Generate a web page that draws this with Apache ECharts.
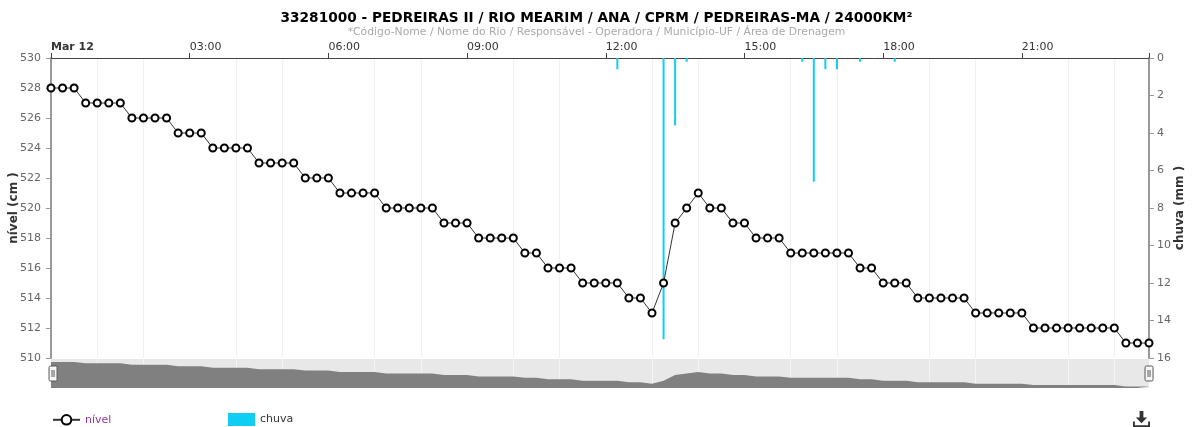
<!DOCTYPE html>
<html>
<head>
<meta charset="utf-8">
<script src="https://cdn.jsdelivr.net/npm/echarts@6/dist/echarts.min.js"></script>
<style>
html,body{margin:0;padding:0;background:#fff;}
#chart{width:1193px;height:427px;}
</style>
</head>
<body>
<div id="chart"></div>
<script>
const times = [
'00:00','00:15','00:30','00:45','01:00','01:15','01:30','01:45',
'02:00','02:15','02:30','02:45','03:00','03:15','03:30','03:45',
'04:00','04:15','04:30','04:45','05:00','05:15','05:30','05:45',
'06:00','06:15','06:30','06:45','07:00','07:15','07:30','07:45',
'08:00','08:15','08:30','08:45','09:00','09:15','09:30','09:45',
'10:00','10:15','10:30','10:45','11:00','11:15','11:30','11:45',
'12:00','12:15','12:30','12:45','13:00','13:15','13:30','13:45',
'14:00','14:15','14:30','14:45','15:00','15:15','15:30','15:45',
'16:00','16:15','16:30','16:45','17:00','17:15','17:30','17:45',
'18:00','18:15','18:30','18:45','19:00','19:15','19:30','19:45',
'20:00','20:15','20:30','20:45','21:00','21:15','21:30','21:45',
'22:00','22:15','22:30','22:45','23:00','23:15','23:30','23:45'];

const nivel = [
528,528,528, 527,527,527,527, 526,526,526,526, 525,525,525,
524,524,524,524, 523,523,523,523, 522,522,522, 521,521,521,521,
520,520,520,520,520, 519,519,519, 518,518,518,518, 517,517,
516,516,516, 515,515,515,515, 514,514, 513, 515, 519, 520, 521,
520,520, 519,519, 518,518,518, 517,517,517,517,517,517, 516,516,
515,515,515, 514,514,514,514,514, 513,513,513,513,513,
512,512,512,512,512,512,512,512, 511,511,511];

const rainTimes = ['12:15','13:15','13:30','13:45','16:15','16:30','16:45','17:00','17:30','18:15'];
const rainValues = [0.6, 15.0, 3.6, 0.2, 0.2, 6.6, 0.6, 0.6, 0.2, 0.2];

const xTickLabels = ['Mar 12','03:00','06:00','09:00','12:00','15:00','18:00','21:00'];

const titleText = '33281000 - PEDREIRAS II / RIO MEARIM / ANA / CPRM / PEDREIRAS-MA / 24000KM²';
const subText = '*Código-Nome / Nome do Rio / Responsável - Operadora / Município-UF / Área de Drenagem';

const toH = t => parseInt(t.slice(0,2),10) + parseInt(t.slice(3),10)/60;
const levelData = times.map((t,i) => [toH(t), nivel[i]]);
const rainData = rainTimes.map((t,i) => [toH(t), rainValues[i]]);
const xMax = toH(times[times.length-1]);

const FONT = 'DejaVu Sans';
const chart = echarts.init(document.getElementById('chart'), null, {renderer:'canvas'});

const option = {
  animation: false,
  textStyle: {fontFamily: FONT},
  title: {
    text: titleText, subtext: subText, left: 'center', top: 10, padding: 0, itemGap: 0,
    textStyle: {fontFamily: FONT, fontSize: 13.7, fontWeight: 'bold', color: '#000', lineHeight: 16},
    subtextStyle: {fontFamily: FONT, fontSize: 10.8, color: '#aaa', lineHeight: 13}
  },
  grid: [
    {left: 51, right: 44, top: 58, bottom: 69, outerBoundsMode: 'none', containLabel: false},
    {left: 51, right: 44, top: 359, height: 29, show: true, backgroundColor: '#e8e8e8', borderWidth: 0, outerBoundsMode: 'none', containLabel: false}
  ],
  xAxis: [
    {
      type: 'value', gridIndex: 0, position: 'top', min: 0, max: xMax, interval: 3,
      axisLine: {show: true, onZero: false, lineStyle: {color: '#444', width: 1}},
      axisTick: {show: true, length: 5, lineStyle: {color: '#444'}},
      minorTick: {show: false, splitNumber: 3},
      splitLine: {show: false},
      minorSplitLine: {show: true, lineStyle: {color: '#f0f0f0', width: 1}},
      axisLabel: {
        align: 'left', margin: 5, fontSize: 11, color: '#333', fontFamily: FONT,
        formatter: v => { const k = Math.round(v/3); return k === 0 ? '{b|' + xTickLabels[0] + '}' : (xTickLabels[k] || ''); },
        rich: {b: {fontWeight: 'bold', fontSize: 11, color: '#333', fontFamily: FONT}}
      }
    },
    {
      type: 'value', gridIndex: 1, min: 0, max: xMax, interval: 3,
      axisLine: {show: false}, axisTick: {show: false}, axisLabel: {show: false},
      splitLine: {show: false},
      minorTick: {show: false, splitNumber: 3},
      minorSplitLine: {show: true, lineStyle: {color: '#f4f4f4', width: 1}}
    }
  ],
  yAxis: [
    {
      type: 'value', gridIndex: 0, min: 510, max: 530, interval: 2,
      name: 'nível (cm )', nameLocation: 'middle', nameRotate: 90, nameGap: 31, nameMoveOverlap: false,
      nameTextStyle: {fontFamily: FONT, fontWeight: 'bold', fontSize: 12, color: '#333'},
      axisLine: {show: true, lineStyle: {color: '#999', width: 2}},
      axisTick: {show: true, length: 5, lineStyle: {color: '#999'}},
      splitLine: {show: false},
      axisLabel: {margin: 10, fontSize: 11, color: '#666', fontFamily: FONT}
    },
    {
      type: 'value', gridIndex: 0, position: 'right', min: 0, max: 16, interval: 2, inverse: true,
      name: 'chuva (mm )', nameLocation: 'middle', nameRotate: 90, nameGap: 25, nameMoveOverlap: false,
      nameTextStyle: {fontFamily: FONT, fontWeight: 'bold', fontSize: 12, color: '#333'},
      axisLine: {show: true, lineStyle: {color: '#999', width: 2}},
      axisTick: {show: true, length: 5, lineStyle: {color: '#999'}},
      splitLine: {show: false},
      axisLabel: {margin: 8, fontSize: 11, color: '#666', fontFamily: FONT}
    },
    {
      type: 'value', gridIndex: 1, min: 510, max: 530,
      axisLine: {show: false}, axisTick: {show: false}, axisLabel: {show: false}, splitLine: {show: false}
    }
  ],
  dataZoom: [{
    type: 'slider', xAxisIndex: [0, 1], filterMode: 'none',
    left: 51, right: 44, top: 359, height: 29,
    showDataShadow: false, showDetail: false, brushSelect: false, moveHandleSize: 0,
    backgroundColor: 'rgba(0,0,0,0)', fillerColor: 'rgba(0,0,0,0)', borderColor: 'rgba(0,0,0,0)',
    handleIcon: 'path://M1.5,0 h5 a1.5,1.5 0 0 1 1.5,1.5 v12 a1.5,1.5 0 0 1 -1.5,1.5 h-5 a1.5,1.5 0 0 1 -1.5,-1.5 v-12 a1.5,1.5 0 0 1 1.5,-1.5 z M3,4 v7 M5,4 v7',
    handleSize: 15,
    handleStyle: {color: '#f7f7f7', borderColor: '#555', borderWidth: 1},
    emphasis: {handleStyle: {color: '#f7f7f7', borderColor: '#555'}},
    start: 0, end: 100
  }],
  legend: [
    {
      data: [{name: 'nível', textStyle: {color: '#8e3b96'}}],
      left: 52, top: 414, padding: 0, itemWidth: 27, itemHeight: 12, itemGap: 0,
      textStyle: {fontFamily: FONT, fontSize: 11}, selectedMode: false
    },
    {
      data: [{name: 'chuva', icon: 'rect', textStyle: {color: '#333'}}],
      left: 228, top: 413, padding: 0, itemWidth: 27, itemHeight: 13, itemGap: 0,
      textStyle: {fontFamily: FONT, fontSize: 11}, selectedMode: false
    }
  ],
  toolbox: {
    right: 43, top: 411, itemSize: 17, padding: 0,
    feature: {
      saveAsImage: {
        title: ' ',
        icon: 'path://M7,0 h4 v7 h4 l-6,6 l-6,-6 h4 z M0,11 h2 v4 h14 v-4 h2 v6 h-18 z',
        iconStyle: {color: '#333', borderColor: '#333', borderWidth: 0}
      }
    }
  },
  series: [
    {
      name: 'chuva', type: 'bar', xAxisIndex: 0, yAxisIndex: 1, data: rainData,
      barWidth: 2, itemStyle: {color: '#10cdf3'}, z: 2
    },
    {
      name: 'nível', type: 'line', xAxisIndex: 0, yAxisIndex: 0, data: levelData,
      symbol: 'circle', symbolSize: 7, showAllSymbol: true,
      lineStyle: {color: '#333', width: 1},
      itemStyle: {color: '#fff', borderColor: '#000', borderWidth: 2},
      z: 3
    },
    {
      name: 'nav', type: 'line', xAxisIndex: 1, yAxisIndex: 2, data: levelData,
      symbol: 'none', silent: true,
      lineStyle: {width: 0, color: '#808080'},
      areaStyle: {color: '#808080', opacity: 1, origin: 'start'}
    }
  ]
};
chart.setOption(option);
</script>
</body>
</html>
